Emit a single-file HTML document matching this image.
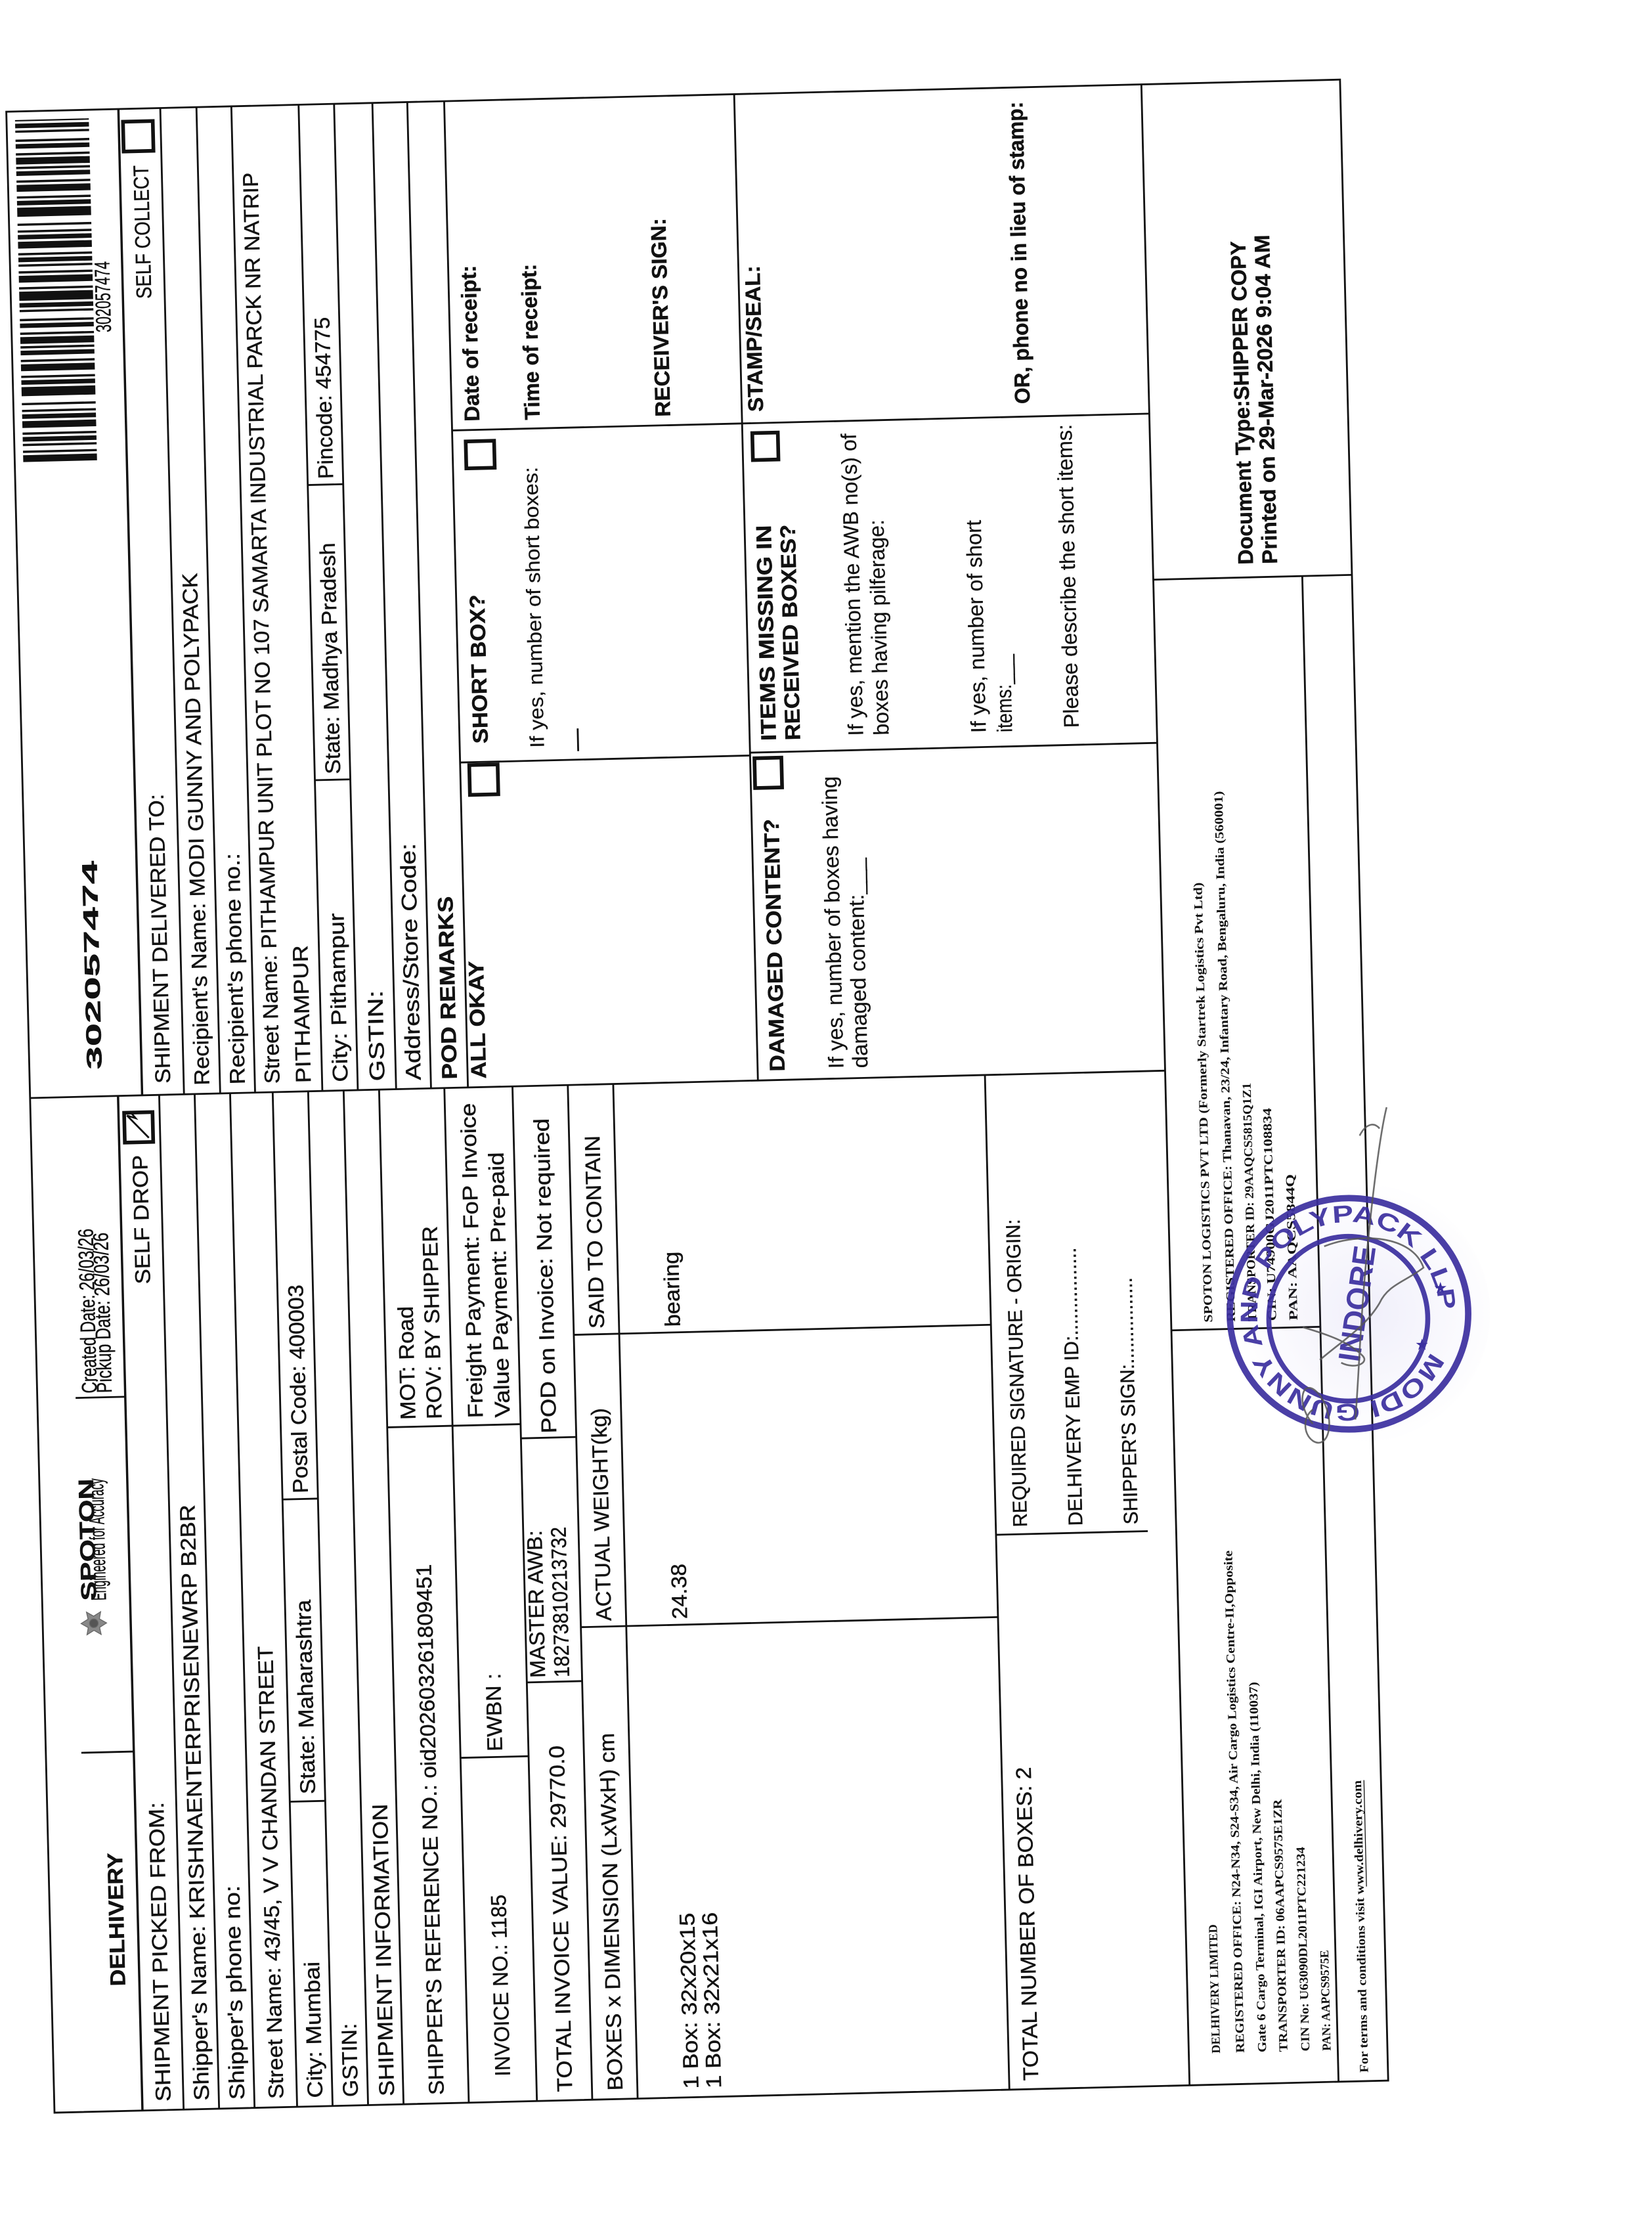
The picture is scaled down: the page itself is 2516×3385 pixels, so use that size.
<!DOCTYPE html>
<html><head><meta charset="utf-8">
<style>
html,body{margin:0;padding:0;background:#fff;}
body{width:2516px;height:3385px;position:relative;overflow:hidden;}
#form{position:absolute;left:83.4px;top:3216.7px;width:1410px;height:940px;transform-origin:0 0;transform:rotate(-91.38deg) scale(2.1615);overflow:visible;}
#ov{position:absolute;left:0;top:0;width:2516px;height:3385px;}
.t{font-family:"Liberation Sans",Arial,sans-serif;font-size:15px;fill:#111;stroke:#111;stroke-width:0.2;}
.b{font-weight:bold;}
.s14{font-size:14px;}
.f{font-family:"Liberation Serif","Times New Roman",serif;font-weight:bold;font-size:8.6px;fill:#111;}
.ln{stroke:#111;stroke-width:1.3;fill:none;}
.cb{stroke:#111;stroke-width:2.6;fill:none;}
</style></head>
<body>
<svg id="form" viewBox="0 0 1410 940" xmlns="http://www.w3.org/2000/svg">
<rect x="0" y="0" width="1410" height="940" class="ln" stroke-width="1.6"/>
<line class="ln" x1="715" y1="0" x2="715" y2="800"/>
<line class="ln" x1="0" y1="800" x2="1410" y2="800" stroke-width="1.6"/>
<g class="ln">
<line x1="0" y1="62" x2="715" y2="62" stroke-width="1.6"/>
<line x1="0" y1="91" x2="715" y2="91"/>
<line x1="0" y1="116" x2="715" y2="116"/>
<line x1="0" y1="141" x2="715" y2="141"/>
<line x1="0" y1="171" x2="715" y2="171"/>
<line x1="0" y1="196" x2="715" y2="196"/>
<line x1="0" y1="221" x2="715" y2="221"/>
<line x1="0" y1="246" x2="715" y2="246"/>
<line x1="0" y1="292" x2="715" y2="292"/>
<line x1="0" y1="340" x2="715" y2="340"/>
<line x1="0" y1="379" x2="715" y2="379"/>
<line x1="0" y1="411" x2="715" y2="411"/>
<line x1="0" y1="673" x2="715" y2="673"/>
<line x1="253" y1="25" x2="253" y2="62"/>
<line x1="503" y1="27" x2="503" y2="62"/>
<line x1="215" y1="171" x2="215" y2="196"/>
<line x1="428" y1="171" x2="428" y2="196"/>
<line x1="477" y1="246" x2="477" y2="292"/>
<line x1="243" y1="292" x2="243" y2="340"/>
<line x1="477" y1="292" x2="477" y2="340"/>
<line x1="295" y1="340" x2="295" y2="379"/>
<line x1="467" y1="340" x2="467" y2="379"/>
<line x1="333" y1="379" x2="333" y2="673"/>
<line x1="539" y1="379" x2="539" y2="673"/>
<line x1="391" y1="673" x2="391" y2="780"/>
</g>
<g class="ln">
<line x1="715" y1="79" x2="1410" y2="79" stroke-width="1.6"/>
<line x1="715" y1="108.5" x2="1410" y2="108.5"/>
<line x1="715" y1="134" x2="1410" y2="134"/>
<line x1="715" y1="158.6" x2="1410" y2="158.6"/>
<line x1="715" y1="206" x2="1410" y2="206"/>
<line x1="715" y1="231" x2="1410" y2="231"/>
<line x1="715" y1="258" x2="1410" y2="258"/>
<line x1="715" y1="282.6" x2="1410" y2="282.6"/>
<line x1="715" y1="308.6" x2="1410" y2="308.6"/>
<line x1="715" y1="513" x2="1410" y2="513"/>
<line x1="934" y1="206" x2="934" y2="231"/>
<line x1="1142" y1="206" x2="1142" y2="231"/>
<line x1="944" y1="308.6" x2="944" y2="513"/>
<line x1="1178" y1="308.6" x2="1178" y2="513"/>
<line x1="946" y1="513" x2="946" y2="800"/>
<line x1="1178" y1="513" x2="1178" y2="800"/>
</g>
<g class="ln">
<line x1="532" y1="800" x2="532" y2="905"/>
<line x1="0" y1="905" x2="1061" y2="905"/>
<line x1="1061" y1="800" x2="1061" y2="940"/>
</g>

<text x="88" y="52" class="t b" font-size="33" stroke-width="1.2" textLength="94" lengthAdjust="spacingAndGlyphs">DELHIVERY</text>
<g transform="translate(344,36)" fill="#888" stroke="#666" stroke-width="0.6">
<polygon points="0,-9 3,-4 8,-5 5,0 8,5 3,4 0,9 -3,4 -8,5 -5,0 -8,-5 -3,-4"/>
<circle r="3" fill="#555"/>
</g>
<text x="360" y="38" class="t b" font-size="12" textLength="86" lengthAdjust="spacingAndGlyphs" fill="#333">SPOTON</text>
<text x="360" y="45" class="t" font-size="4" stroke-width="0" textLength="86" lengthAdjust="spacingAndGlyphs">Engineered for Accuracy</text>
<text x="506" y="42" class="t" font-size="10" stroke-width="0.1" textLength="116" lengthAdjust="spacingAndGlyphs">Created Date: 26/03/26</text>
<text x="506" y="52.5" class="t" font-size="10" stroke-width="0.1" textLength="113" lengthAdjust="spacingAndGlyphs">Pickup Date: 26/03/26</text>
<text x="582" y="81.5" class="t" font-size="16" textLength="91" lengthAdjust="spacingAndGlyphs">SELF DROP</text>
<rect x="682" y="66" width="21" height="20" class="cb"/>
<polyline points="685,83 701,68 699,74 704,70" class="ln" stroke-width="2.4"/>

<g class="t">
<text x="6" y="82" textLength="211" lengthAdjust="spacingAndGlyphs">SHIPMENT PICKED FROM:</text>
<text x="6" y="109" textLength="420" lengthAdjust="spacingAndGlyphs">Shipper's Name: KRISHNAENTERPRISENEWRP B2BR</text>
<text x="6" y="134" textLength="151" lengthAdjust="spacingAndGlyphs">Shipper's phone no:</text>
<text x="6" y="161.5" textLength="319" lengthAdjust="spacingAndGlyphs">Street Name: 43/45, V V CHANDAN STREET</text>
<text x="6" y="189" textLength="96" lengthAdjust="spacingAndGlyphs">City: Mumbai</text>
<text x="220" y="189" textLength="137" lengthAdjust="spacingAndGlyphs">State: Maharashtra</text>
<text x="432" y="189" textLength="147" lengthAdjust="spacingAndGlyphs">Postal Code: 400003</text>
<text x="6" y="214" textLength="52" lengthAdjust="spacingAndGlyphs">GSTIN:</text>
<text x="6" y="239.5" textLength="206" lengthAdjust="spacingAndGlyphs">SHIPMENT INFORMATION</text>
<text x="6" y="274.5" textLength="374" lengthAdjust="spacingAndGlyphs">SHIPPER'S REFERENCE NO.: oid202603261809451</text>
<text x="482" y="266" textLength="80" lengthAdjust="spacingAndGlyphs">MOT: Road</text>
<text x="482" y="284.5" textLength="136" lengthAdjust="spacingAndGlyphs">ROV: BY SHIPPER</text>
<text x="18" y="321.5" textLength="128" lengthAdjust="spacingAndGlyphs">INVOICE NO.: 1185</text>
<text x="247" y="321.5" textLength="55" lengthAdjust="spacingAndGlyphs">EWBN :</text>
<text x="482" y="313.5" textLength="222" lengthAdjust="spacingAndGlyphs">Freight Payment: FoP Invoice</text>
<text x="482" y="332.5" textLength="187" lengthAdjust="spacingAndGlyphs">Value Payment: Pre-paid</text>
<text x="6" y="365" textLength="244" lengthAdjust="spacingAndGlyphs">TOTAL INVOICE VALUE: 29770.0</text>
<text x="298" y="353" textLength="104" lengthAdjust="spacingAndGlyphs">MASTER AWB:</text>
<text x="298" y="370" textLength="106" lengthAdjust="spacingAndGlyphs">18273810213732</text>
<text x="470" y="365" textLength="222" lengthAdjust="spacingAndGlyphs">POD on Invoice: Not required</text>
<text x="6" y="400.5" textLength="252" lengthAdjust="spacingAndGlyphs">BOXES x DIMENSION (LxWxH) cm</text>
<text x="337" y="400.5" textLength="150" lengthAdjust="spacingAndGlyphs">ACTUAL WEIGHT(kg)</text>
<text x="543" y="400.5" textLength="136" lengthAdjust="spacingAndGlyphs">SAID TO CONTAIN</text>
<text x="6" y="454" textLength="124" lengthAdjust="spacingAndGlyphs">1 Box: 32x20x15</text>
<text x="6" y="470" textLength="124" lengthAdjust="spacingAndGlyphs">1 Box: 32x21x16</text>
<text x="337" y="454" textLength="39" lengthAdjust="spacingAndGlyphs">24.38</text>
<text x="543" y="454" textLength="53" lengthAdjust="spacingAndGlyphs">bearing</text>
<text x="6" y="693.5" textLength="221" lengthAdjust="spacingAndGlyphs">TOTAL NUMBER OF BOXES: 2</text>
<text x="396" y="695" class="s14" textLength="217" lengthAdjust="spacingAndGlyphs">REQUIRED SIGNATURE - ORIGIN:</text>
<text x="396" y="734" class="s14" textLength="196" lengthAdjust="spacingAndGlyphs">DELHIVERY EMP ID:................</text>
<text x="396" y="773" class="s14" textLength="174" lengthAdjust="spacingAndGlyphs">SHIPPER'S SIGN:................</text>
</g>

<line x1="1163" y1="32" x2="1404" y2="32" stroke="#111" stroke-width="52" stroke-dasharray="4.8 1.6 1.6 3.2 1.6 1.6 3.2 1.6 1.6 3.2 4.8 1.6 3.2 1.6 1.6 3.2 1.6 4.8 6.4 1.6 3.2 1.6 1.6 3.2 4.8 1.6 1.6 3.2 3.2 1.6 1.6 1.6 4.8 1.6 1.6 3.2 3.2 1.6 1.6 4.8 1.6 1.6 3.2 1.6 6.4 1.6 1.6 3.2"/>
<text x="1253" y="70" class="t" font-size="7" stroke-width="0" textLength="50" lengthAdjust="spacingAndGlyphs">302057474</text>
<text x="734" y="51" class="t b" font-size="28" textLength="147" lengthAdjust="spacingAndGlyphs">302057474</text>
<text x="1276" y="99" class="t" font-size="14" textLength="94" lengthAdjust="spacingAndGlyphs">SELF COLLECT</text>
<rect x="1380" y="82" width="21" height="21" class="cb"/>

<g class="t">
<text x="723" y="99" textLength="204" lengthAdjust="spacingAndGlyphs">SHIPMENT DELIVERED TO:</text>
<text x="721" y="126.5" textLength="361" lengthAdjust="spacingAndGlyphs">Recipient's Name: MODI GUNNY AND POLYPACK</text>
<text x="721" y="151.5" textLength="163" lengthAdjust="spacingAndGlyphs">Recipient's phone no.:</text>
<text x="721" y="176" textLength="642" lengthAdjust="spacingAndGlyphs">Street Name: PITHAMPUR UNIT PLOT NO 107 SAMARTA INDUSTRIAL PARCK NR NATRIP</text>
<text x="721" y="198" textLength="97" lengthAdjust="spacingAndGlyphs">PITHAMPUR</text>
<text x="721" y="224" textLength="119" lengthAdjust="spacingAndGlyphs">City: Pithampur</text>
<text x="938" y="224" textLength="163" lengthAdjust="spacingAndGlyphs">State: Madhya Pradesh</text>
<text x="1146" y="224" textLength="114" lengthAdjust="spacingAndGlyphs">Pincode: 454775</text>
<text x="721" y="250" textLength="64" lengthAdjust="spacingAndGlyphs">GSTIN:</text>
<text x="721" y="275.5" textLength="167" lengthAdjust="spacingAndGlyphs">Address/Store Code:</text>
<text x="721" y="301" class="b" textLength="129" lengthAdjust="spacingAndGlyphs">POD REMARKS</text>
<text x="721" y="321.5" class="b" textLength="83" lengthAdjust="spacingAndGlyphs">ALL OKAY</text>
<text x="957" y="328.5" class="b" textLength="105" lengthAdjust="spacingAndGlyphs">SHORT BOX?</text>
<text x="953" y="368" class="s14" stroke-width="0.1" textLength="198" lengthAdjust="spacingAndGlyphs">If yes, number of short boxes:</text>
<text x="1184" y="328" class="b" textLength="110" lengthAdjust="spacingAndGlyphs">Date of receipt:</text>
<text x="1184" y="370.5" class="b" textLength="110" lengthAdjust="spacingAndGlyphs">Time of receipt:</text>
<text x="1184" y="462.5" class="b" textLength="140" lengthAdjust="spacingAndGlyphs">RECEIVER'S SIGN:</text>
<text x="721" y="532" class="b" textLength="178" lengthAdjust="spacingAndGlyphs">DAMAGED CONTENT?</text>
<text x="722" y="573.5" stroke-width="0.1" textLength="206" lengthAdjust="spacingAndGlyphs">If yes, number of boxes having</text>
<text x="722" y="590.5" stroke-width="0.1" textLength="148" lengthAdjust="spacingAndGlyphs">damaged content:___</text>
<text x="954" y="531.5" class="b" textLength="152" lengthAdjust="spacingAndGlyphs">ITEMS MISSING IN</text>
<text x="954" y="548.5" class="b" textLength="152" lengthAdjust="spacingAndGlyphs">RECEIVED BOXES?</text>
<text x="956" y="593" stroke-width="0.1" textLength="213" lengthAdjust="spacingAndGlyphs">If yes, mention the AWB no(s) of</text>
<text x="956" y="611" stroke-width="0.1" textLength="152" lengthAdjust="spacingAndGlyphs">boxes having pilferage:</text>
<text x="956" y="679.5" stroke-width="0.1" textLength="150" lengthAdjust="spacingAndGlyphs">If yes, number of short</text>
<text x="956" y="698" stroke-width="0.1" textLength="55" lengthAdjust="spacingAndGlyphs">items:___</text>
<text x="958" y="745" stroke-width="0.1" textLength="214" lengthAdjust="spacingAndGlyphs">Please describe the short items:</text>
<text x="1186" y="528" class="b" textLength="103" lengthAdjust="spacingAndGlyphs">STAMP/SEAL:</text>
<text x="1187" y="716" class="b" textLength="213" lengthAdjust="spacingAndGlyphs">OR, phone no in lieu of stamp:</text>
<text x="1070" y="870.5" class="b" textLength="228" lengthAdjust="spacingAndGlyphs">Document Type:SHIPPER COPY</text>
<text x="1070" y="887.5" class="b" textLength="232" lengthAdjust="spacingAndGlyphs">Printed on 29-Mar-2026 9:04 AM</text>
</g>
<line x1="950" y1="392" x2="966" y2="392" class="ln"/>
<rect x="921" y="315" width="21" height="20" class="cb"/>
<rect x="1151" y="318" width="19" height="20" class="cb"/>
<rect x="921" y="516" width="21" height="19" class="cb"/>
<rect x="1152" y="520" width="19" height="18" class="cb"/>

<text x="22" y="822" class="f" textLength="91" lengthAdjust="spacingAndGlyphs">DELHIVERY LIMITED</text>
<text x="22" y="839" class="f" textLength="354" lengthAdjust="spacingAndGlyphs">REGISTERED OFFICE: N24-N34, S24-S34, Air Cargo Logistics Centre-II,Opposite</text>
<text x="22" y="854.5" class="f" textLength="261" lengthAdjust="spacingAndGlyphs">Gate 6 Cargo Terminal, IGI Airport, New Delhi, India (110037)</text>
<text x="22" y="869.5" class="f" textLength="178" lengthAdjust="spacingAndGlyphs">TRANSPORTER ID: 06AAPCS9575E1ZR</text>
<text x="22" y="885" class="f" textLength="144" lengthAdjust="spacingAndGlyphs">CIN No: U63090DL2011PTC221234</text>
<text x="22" y="900" class="f" textLength="71" lengthAdjust="spacingAndGlyphs">PAN: AAPCS9575E</text>
<text x="6" y="926" class="f" textLength="206" lengthAdjust="spacingAndGlyphs">For terms and conditions visit www.delhivery.com</text>
<line x1="137" y1="928" x2="212" y2="928" stroke="#111" stroke-width="0.6"/>
<text x="537" y="829" class="f" textLength="310" lengthAdjust="spacingAndGlyphs">SPOTON LOGISTICS PVT LTD (Formerly Startrek Logistics Pvt Ltd)</text>
<text x="537" y="845" class="f" textLength="374" lengthAdjust="spacingAndGlyphs">REGISTERED OFFICE: Thanavan, 23/24, Infantary Road, Bengaluru, India (560001)</text>
<text x="537" y="860" class="f" textLength="168" lengthAdjust="spacingAndGlyphs">TRANSPORTER ID: 29AAQCS5815Q1Z1</text>
<text x="537" y="874" class="f" textLength="150" lengthAdjust="spacingAndGlyphs">CIN: U74900GJ2011PTC108834</text>
<text x="537" y="889" class="f" textLength="103" lengthAdjust="spacingAndGlyphs">PAN: AAQCS5844Q</text>
</svg>

<svg id="ov" viewBox="0 0 1164 1566" xmlns="http://www.w3.org/2000/svg">
<defs>
<path id="ring" d="M1008,952.1 A64,64 0 1 1 892,897.9 A64,64 0 1 1 1008,952.1"/>
<radialGradient id="haze" cx="0.55" cy="0.5" r="0.5">
<stop offset="0" stop-color="#6a5fd0" stop-opacity="0.10"/>
<stop offset="1" stop-color="#6a5fd0" stop-opacity="0"/>
</radialGradient>
</defs>
<ellipse cx="955" cy="925" rx="95" ry="92" fill="url(#haze)"/>
<g stroke="#3b2f9f" fill="none" opacity="0.92">
<ellipse cx="950.5" cy="925.5" rx="84" ry="81.5" stroke-width="4.5"/>
<ellipse cx="950" cy="929" rx="56" ry="58" stroke-width="3.5"/>
</g>
<text font-family="Liberation Sans, Arial, sans-serif" font-weight="bold" font-size="17" fill="#3b2f9f" opacity="0.92"><textPath href="#ring" textLength="372" lengthAdjust="spacingAndGlyphs">MODI GUNNY AND POLYPACK LLP</textPath></text>
<text x="0" y="0" transform="translate(958,960) rotate(-82)" font-family="Liberation Sans, Arial, sans-serif" font-weight="bold" font-size="22" fill="#3b2f9f" opacity="0.92" textLength="82" lengthAdjust="spacingAndGlyphs">INDORE</text>
<text x="1010" y="911" font-family="DejaVu Sans, sans-serif" font-size="11" fill="#3b2f9f">★</text>
<text x="997" y="951" font-family="DejaVu Sans, sans-serif" font-size="11" fill="#3b2f9f">★</text>
<g stroke="#555" stroke-width="1.2" fill="none" opacity="0.85">
<path d="M977,780 C972,800 966,850 962,895 S958,960 955,1000"/>
<path d="M972,795 C968,790 962,792 958,800"/>
<path d="M933,878 C958,868 995,870 1003,893 C990,903 978,905 972,918 C962,935 945,945 930,958"/>
<path d="M925,1003 C912,988 918,968 930,983 C942,1000 936,1022 925,1015 C918,1010 918,998 925,993"/>
<path d="M918,935 C935,940 950,945 960,955 C965,960 955,965 945,960"/>
</g>
</svg>
</body></html>
